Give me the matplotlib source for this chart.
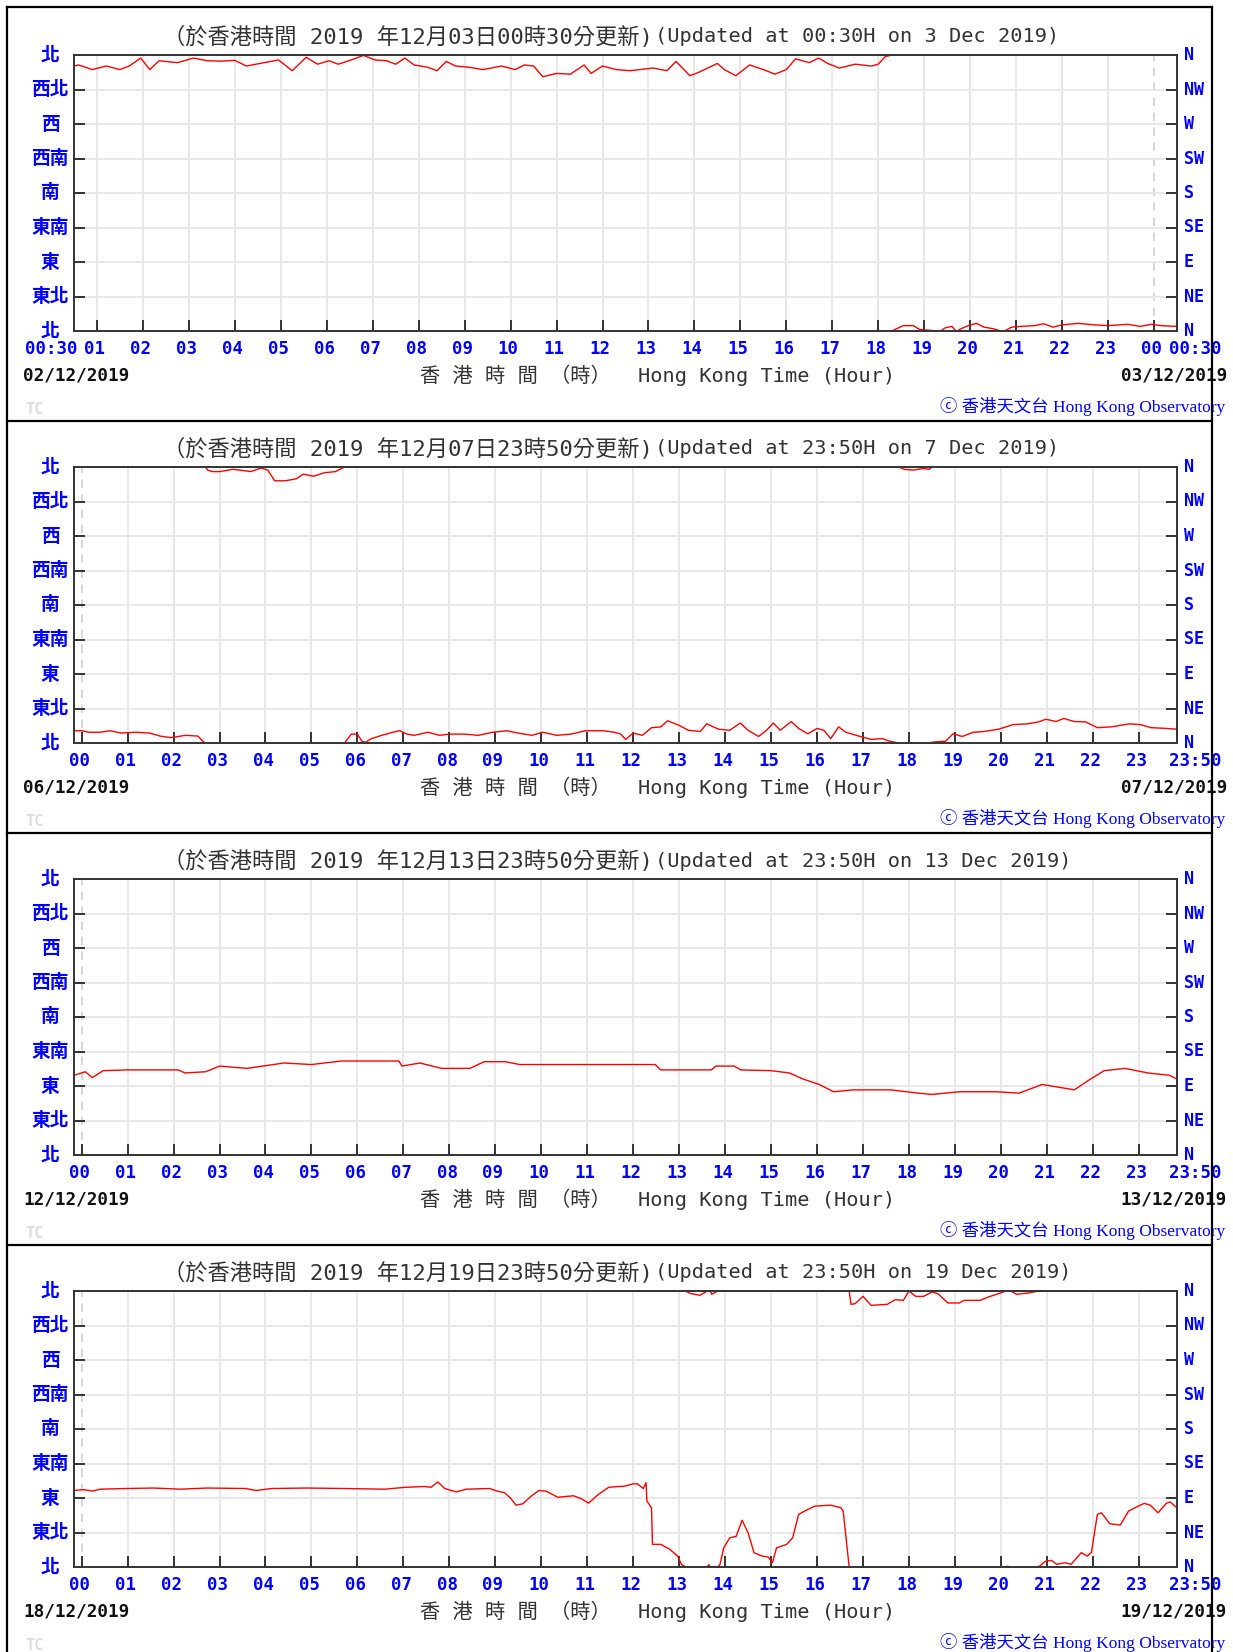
import numpy as np
import matplotlib
matplotlib.use('Agg')
import matplotlib.pyplot as plt
import matplotlib.transforms as mtransforms
from matplotlib.lines import Line2D

# figure size in pixels
W, H, DPI = 1233, 1652, 100
CJK = 'Noto Sans CJK TC'
MONO = 'DejaVu Sans Mono'
BLUE = '#0000ff'
RED = '#ff0000'

# direction axis
dir_deg = [0, 45, 90, 135, 180, 225, 270, 315, 360]
dir_cn = ['北', '東北', '東', '東南', '南', '西南', '西', '西北', '北']
dir_en = ['N', 'NE', 'E', 'SE', 'S', 'SW', 'W', 'NW', 'N']

titles_cn = [
    '（於香港時間 2019 年12月03日00時30分更新)',
    '（於香港時間 2019 年12月07日23時50分更新)',
    '（於香港時間 2019 年12月13日23時50分更新)',
    '（於香港時間 2019 年12月19日23時50分更新)',
]
titles_en = [
    '(Updated at 00:30H on 3 Dec 2019)',
    '(Updated at 23:50H on 7 Dec 2019)',
    '(Updated at 23:50H on 13 Dec 2019)',
    '(Updated at 23:50H on 19 Dec 2019)',
]
dates_left = ['02/12/2019', '06/12/2019', '12/12/2019', '18/12/2019']
dates_right = ['03/12/2019', '07/12/2019', '13/12/2019', '19/12/2019']
end_labels = ['00:30', '23:50', '23:50', '23:50']
xlabel_cn = '香 港 時 間 （時）'
xlabel_en = 'Hong Kong Time (Hour)'
credit_text = 'ⓒ 香港天文台 Hong Kong Observatory'

# hours counted from 00:00 of the first date, wind direction in degrees
p1_hour = [0.5, 0.6, 0.9, 1.2, 1.5, 1.7, 1.95, 2.15, 2.35, 2.75, 3.1, 3.4, 3.7, 4.0,
           4.25, 4.55, 4.95, 5.25, 5.55, 5.8, 6.05, 6.25, 6.6, 6.8, 7.05, 7.3, 7.5,
           7.7, 7.9, 8.2, 8.4, 8.6, 8.8, 9.1, 9.4, 9.8, 10.1, 10.3, 10.5, 10.7, 11.0,
           11.3, 11.6, 11.75, 12.0, 12.3, 12.6, 13.1, 13.4, 13.6, 13.9, 14.1, 14.5,
           14.65, 14.9, 15.2, 15.5, 15.75, 16.0, 16.2, 16.5, 16.7, 16.9, 17.15, 17.5,
           17.85, 18.0, 18.15, 18.3, 18.33, 18.54, 18.76, 18.9, 19.1, 19.3, 19.35,
           19.45, 19.6, 19.7, 19.8, 19.96, 20.14, 20.3, 20.5, 20.7, 20.75, 20.9, 21.1,
           21.4, 21.6, 21.8, 22.0, 22.35, 22.7, 23.0, 23.43, 23.7, 23.94, 24.16,
           24.45, 24.5]
p1_dir = [345.6, 347, 341, 345.6, 341, 345.6, 356, 341, 352.5, 350, 356, 352.5, 352, 353,
          345.6, 349, 353.5, 339.5, 357, 348, 352.5, 348, 355, 359.5, 353.5, 352.5, 348,
          356, 347, 344, 339.5, 351.6, 345.6, 344, 341, 345.6, 341, 347, 345.6, 331.6, 336,
          335, 347, 336, 345.6, 341, 339.5, 343, 339.5, 351.6, 333, 337.6, 349,
          341, 333, 347, 341, 335, 341, 355, 350, 356, 349, 343, 348,
          345.6, 348, 358, 360, 1, 7, 7, 2, 1, 0, 359.5,
          4, 6, 359.5, 3, 7, 10, 5, 3, 359.5, 0, 5, 6,
          7, 9.5, 5, 8, 10, 8, 7, 8.7, 6, 8.7, 7,
          6, 7]

p2_hour = [-0.16, 0.0, 0.16, 0.39, 0.62, 0.86, 1.17, 1.48, 1.71, 1.94, 2.26, 2.53, 2.64,
           2.7, 2.74, 2.85, 3.0, 3.3, 3.68, 3.9, 4.05, 4.2, 4.43, 4.67, 4.82, 5.05, 5.28,
           5.52, 5.72, 5.87, 6.0, 6.1, 6.18, 6.3, 6.53, 6.77, 6.92, 7.08, 7.23, 7.54,
           7.78, 8.0, 8.32, 8.63, 8.94, 9.25, 9.49, 9.8, 10.03, 10.34, 10.65, 10.96,
           11.35, 11.59, 11.72, 11.84, 12.0, 12.2, 12.4, 12.6, 12.75, 13.0, 13.2, 13.46,
           13.6, 13.86, 14.1, 14.33, 14.5, 14.73, 14.9, 15.05, 15.2, 15.44, 15.6, 15.8,
           16.0, 16.15, 16.3, 16.47, 16.63, 16.94, 17.18, 17.42, 17.58, 17.78, 17.9,
           18.1, 18.3, 18.45, 18.5, 18.8, 18.96, 19.16, 19.4, 19.63, 19.95, 20.27,
           20.58, 20.82, 20.98, 21.2, 21.37, 21.6, 21.85, 22.1, 22.4, 22.8, 23.04,
           23.27, 23.6, 23.83]
p2_dir = [16, 16, 14, 14, 16, 13, 14, 13, 9, 7, 10, 9, 2,
          0, 356, 354, 354, 357, 354, 358.6, 356, 342, 342, 344.6, 350.7, 348, 352.5,
          354, 360, 11.6, 11.6, 2, 1, 5.6, 10, 14, 16, 11.6, 10, 14,
          10, 11.6, 11.6, 10, 14, 16, 13, 10, 14, 10, 11.6, 16,
          16, 14, 12, 4.7, 13, 10, 20, 21, 29, 23, 16.6, 15,
          25, 18, 16.6, 26, 16.6, 8.5, 16.6, 26, 16.6, 28, 19, 12,
          19, 16.6, 5.7, 21, 14, 8.5, 4.7, 5.7, 2.4, 0, 357,
          356, 358, 357, 1, 2.4, 12, 8.5, 14, 15, 18, 24,
          25, 27.5, 31, 28, 32, 28, 27.5, 20, 21, 25, 24,
          20, 19, 18]

p3_hour = [-0.16, 0.08, 0.23, 0.47, 1.0, 1.3, 2.1, 2.25, 2.7, 3.0, 3.6, 4.4, 5.0, 5.65,
           6.9, 6.97, 7.36, 7.83, 8.45, 8.76, 9.22, 9.53, 10.46, 11.55, 12.48, 12.6,
           13.7, 13.8, 14.2, 14.34, 15.0, 15.4, 15.7, 16.05, 16.36, 16.8, 17.6, 18.2,
           18.5, 19.1, 19.9, 20.4, 20.9, 21.6, 21.95, 22.25, 22.7, 23.2, 23.67, 23.83]
p3_dir = [104, 108.6, 101, 110, 111, 111, 111, 107, 108.6, 116, 113, 120, 118, 122.6,
          122.6, 116, 120, 113, 113, 121.7, 121.7, 118, 118, 118, 118, 111,
          111, 116, 116, 111, 110, 107, 99, 92, 82.5, 85, 85, 80.7,
          79, 82.5, 82.5, 80.7, 92, 85, 99, 110, 113, 107, 104, 99]

p4_hour = [-0.16, 0.03, 0.24, 0.4, 0.99, 1.57, 2.15, 2.73, 3.56, 3.8, 4.14, 4.9, 5.7, 6.6,
           7.05, 7.46, 7.6, 7.75, 7.9, 8.15, 8.37, 8.87, 9.04, 9.2, 9.33, 9.45, 9.6,
           9.78, 9.95, 10.1, 10.36, 10.7, 10.86, 11.03, 11.24, 11.47, 11.82, 12.0,
           12.09, 12.22, 12.28, 12.3, 12.4, 12.42, 12.6, 12.8, 12.97, 13.05, 13.14,
           13.23, 13.45, 13.58, 13.65, 13.71, 13.84, 13.89, 13.97, 14.1, 14.24, 14.37,
           14.5, 14.63, 14.8, 14.94, 15.03, 15.12, 15.34, 15.47, 15.6, 15.73, 15.95,
           16.3, 16.52, 16.57, 16.7, 16.74, 16.83, 17.0, 17.18, 17.53, 17.7, 17.88,
           18.0, 18.15, 18.32, 18.5, 18.63, 18.85, 19.1, 19.2, 19.55, 19.72, 19.99,
           20.15, 20.25, 20.34, 20.6, 20.82, 20.96, 21.1, 21.22, 21.4, 21.53, 21.75,
           21.88, 21.97, 22.1, 22.19, 22.37, 22.6, 22.78, 22.99, 23.12, 23.25, 23.42,
           23.6, 23.68, 23.83]
p4_dir = [99.8, 101, 99, 101.5, 102.4, 103, 101.5, 103, 102.4, 99.8, 102.4, 103, 102.4, 101.5,
          104, 105, 104, 111, 102.4, 98, 101.5, 102.4, 99, 97, 90, 80.7, 82.5,
          92.4, 99.8, 99, 91, 92.9, 89.4, 83.3, 94.6, 104, 105.5, 108.5,
          108.5, 102.4, 110, 86, 77, 29.5, 29.5, 23, 14, 3.5, 0,
          357, 354.4, 358.7, 3, 355.7, 360, 3.5, 25, 38, 40, 61,
          44.7, 18.7, 14.3, 13, 5.6, 25, 29.5, 38, 68.6, 73, 79.4,
          80.7, 77.3, 73, 0, 342.6, 343.5, 353, 341.3, 342.6, 348.7, 347.8,
          360, 353, 353, 358.7, 356.5, 344.4, 344.4, 347.8, 347.8, 352, 357.4,
          1, 359, 355.7, 357.4, 0, 7, 8.7, 3.5, 5.6, 3.5, 18.7,
          14.3, 18.7, 68.6, 70.7, 56.4, 54.7, 73, 79.4, 83, 80.7, 70.7,
          83, 85, 77.3]

hours_list = [p1_hour, p2_hour, p3_hour, p4_hour]
dirs_list = [p1_dir, p2_dir, p3_dir, p4_dir]
# time window of each panel (24 h ending at the update time)
xlims = [(0.5, 24.5), (-1 / 6, 23 + 5 / 6), (-1 / 6, 23 + 5 / 6), (-1 / 6, 23 + 5 / 6)]


def fx(px):
    return px / W


def fy(py):
    return 1 - py / H


fig = plt.figure(figsize=(W / DPI, H / DPI), dpi=DPI)
fig.patch.set_facecolor('white')
renderer = fig.canvas.get_renderer()

STEP = 412  # vertical pixel offset between panels

for k in range(4):
    off = STEP * k
    ax = fig.add_axes([fx(74), fy(331 + off), 1103 / W, 276 / H])
    x0, x1 = xlims[k]
    ax.set_xlim(x0, x1)
    ax.set_ylim(0, 360)

    hours = np.arange(np.ceil(x0), np.floor(x1) + 1)
    # grid, midnight dashed
    for h in hours:
        if h % 24 == 0:
            ax.axvline(h, color='#d0d0d0', lw=1.2, ls=(0, (5, 4)), zorder=1)
        else:
            ax.axvline(h, color='#e8e8e8', lw=1.4, zorder=1)
    for d in dir_deg[1:-1]:
        ax.axhline(d, color='#e8e8e8', lw=1.4, zorder=1)

    # wind direction line, wrapped around north
    t = np.array(hours_list[k])
    y = np.unwrap(np.array(dirs_list[k], dtype=float), period=360)
    for shift in (-360, 0, 360):
        ax.plot(t, y + shift, color=RED, lw=1.0, zorder=3, clip_on=True)

    ax.set_xticks(hours)
    ax.set_yticks(dir_deg[1:-1])
    ax.tick_params(axis='both', which='both', direction='in', length=8, width=1.4,
                   color='#333333', labelbottom=False, labelleft=False,
                   left=True, right=True, bottom=True, top=False)
    for s in ax.spines.values():
        s.set_color('#333333')
        s.set_linewidth(1.4)
        s.set_zorder(4)

    # direction labels
    tl = mtransforms.blended_transform_factory(fig.transFigure, ax.transData)
    for d, cn, en in zip(dir_deg, dir_cn, dir_en):
        fig.text(fx(50), d, cn, transform=tl, ha='center', va='center',
                 fontsize=13.5, color=BLUE, family=CJK, fontweight='bold')
        fig.text(fx(1184), d, en, transform=tl, ha='left', va='center',
                 fontsize=12, color=BLUE, family=MONO, fontweight='bold')

    # hour labels
    tx = mtransforms.blended_transform_factory(ax.transData, fig.transFigure)
    ylab = fy(349 + off)
    for h in hours:
        fig.text(h - 0.05, ylab, '%02d' % (h % 24), transform=tx, ha='center',
                 va='center', fontsize=12.5, color=BLUE, family=MONO, fontweight='bold')
    if k == 0:
        fig.text(fx(77), ylab, '00:30', ha='right', va='center', fontsize=12.5,
                 color=BLUE, family=MONO, fontweight='bold')
    fig.text(fx(1169), ylab, end_labels[k], ha='left', va='center', fontsize=12.5,
             color=BLUE, family=MONO, fontweight='bold', zorder=1)

    # title: chinese part, english part right after it
    tcn = fig.text(fx(163), fy(37 + off), titles_cn[k], ha='left', va='center',
                   fontsize=16, color='#333333', family=[MONO, CJK])
    bb = tcn.get_window_extent(renderer=renderer)
    fig.text(bb.x1 / W + fx(2), fy(37 + off), titles_en[k], ha='left', va='center',
             fontsize=14.6, color='#333333', family=MONO)

    fig.text(fx(23), fy(376 + off), dates_left[k], ha='left', va='center',
             fontsize=12.7, color='#111111', family=MONO, fontweight='bold')
    fig.text(fx(1227), fy(376 + off), dates_right[k], ha='right', va='center',
             fontsize=12.7, color='#111111', family=MONO, fontweight='bold')
    fig.text(fx(420), fy(376 + off), xlabel_cn, ha='left', va='center',
             fontsize=14.6, color='#333333', family=[MONO, CJK])
    fig.text(fx(638), fy(376 + off), xlabel_en, ha='left', va='center',
             fontsize=14.6, color='#333333', family=MONO)
    fig.text(fx(1225), fy(407 + off), credit_text, ha='right', va='center',
             fontsize=12.5, color=BLUE, family=['Liberation Serif', CJK, 'DejaVu Sans'])
    fig.text(fx(25), fy(410 + off), 'TC', ha='left', va='center',
             fontsize=11, color='#dddddd', family=MONO, fontweight='bold')

# page frame and panel separators
frame = dict(color='black', lw=1.6, transform=fig.transFigure, zorder=10)
fig.add_artist(Line2D([fx(7), fx(1212)], [fy(7), fy(7)], **frame))
fig.add_artist(Line2D([fx(7), fx(7)], [fy(7), 0], **frame))
fig.add_artist(Line2D([fx(1212), fx(1212)], [fy(7), 0], **frame))
for k in range(1, 4):
    yy = fy(421 + STEP * (k - 1))
    fig.add_artist(Line2D([fx(7), fx(1212)], [yy, yy], **frame))

fig.savefig('out.png', dpi=DPI, facecolor='white')
